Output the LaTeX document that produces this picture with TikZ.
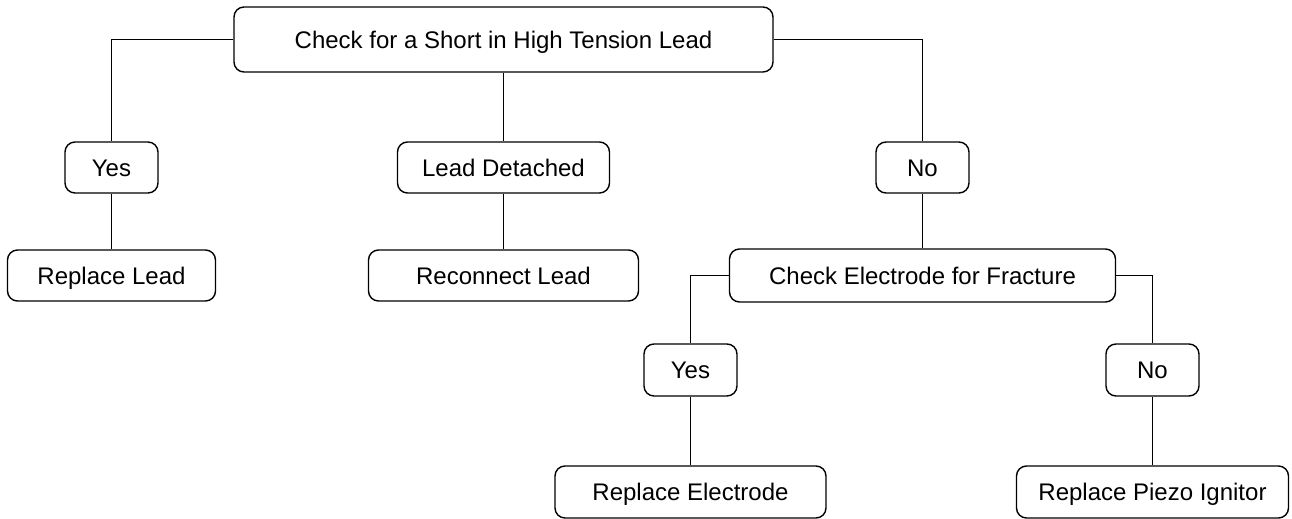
\documentclass[tikz,border=0pt]{standalone}
\usepackage{fontspec}
\setmainfont{Liberation Sans}
\usetikzlibrary{shapes, calc}

\begin{document}
\begin{tikzpicture}
		\tikzstyle{step box}=[rectangle, draw, rounded corners=5pt, line width=0.7pt, inner sep=0pt, minimum height=25.5pt, text height=8.6pt, text depth=0pt, font=\fontsize{12}{14}\selectfont]
		\tikzstyle{answer}=[step box, minimum width=46.5pt]
		\tikzstyle{every node}=[step box]
		\tikzstyle{link}=[line width=0.7pt]

		\useasboundingbox (-251.75pt,19.75pt) rectangle (394.25pt,-239.75pt);

		\node[minimum width=269.5pt, minimum height=32.5pt] (check lead) at (0,0) {Check for a Short in High Tension Lead};

		\node[answer, below of=check lead, node distance=54pt, yshift=-10pt, xshift=-196pt] (yes lead) {Yes};
		\node[minimum width=106pt, below of=check lead, node distance=54pt, yshift=-10pt] (detached) {Lead Detached};
		\node[answer, below of=check lead, node distance=54pt, yshift=-10pt, xshift=209.5pt] (no lead) {No};

		\node[minimum width=104pt, below of=yes lead, node distance=54pt] (replace lead) {Replace Lead};
		\node[minimum width=135pt, below of=detached, node distance=54pt] (reconnect) {Reconnect Lead};
		\node[minimum width=193pt, minimum height=26.5pt, below of=no lead, node distance=54pt] (check electrode) {Check Electrode for Fracture};

		\node[answer, minimum height=26pt, below of=check electrode, node distance=47.25pt, xshift=-116pt] (yes electrode) {Yes};
		\node[answer, minimum height=26pt, below of=check electrode, node distance=47.25pt, xshift=115pt] (no electrode) {No};

		\node[minimum width=135.5pt, minimum height=26pt, below of=yes electrode, node distance=61pt] (replace electrode) {Replace Electrode};
		\node[minimum width=136pt, minimum height=26pt, below of=no electrode, node distance=61pt] (replace ignitor) {Replace Piezo Ignitor};

		\draw[link] (check lead.west) -| (yes lead);
		\draw[link] (check lead) -- (detached);
		\draw[link] (check lead.east) -| (no lead);
		\draw[link] (yes lead) -- (replace lead);
		\draw[link] (detached) -- (reconnect);
		\draw[link] (no lead) -- (check electrode);
		\draw[link] (check electrode.west) -| (yes electrode);
		\draw[link] (check electrode.east) -| (no electrode);
		\draw[link] (yes electrode) -- (replace electrode);
		\draw[link] (no electrode) -- (replace ignitor);

	\end{tikzpicture}
\end{document}
